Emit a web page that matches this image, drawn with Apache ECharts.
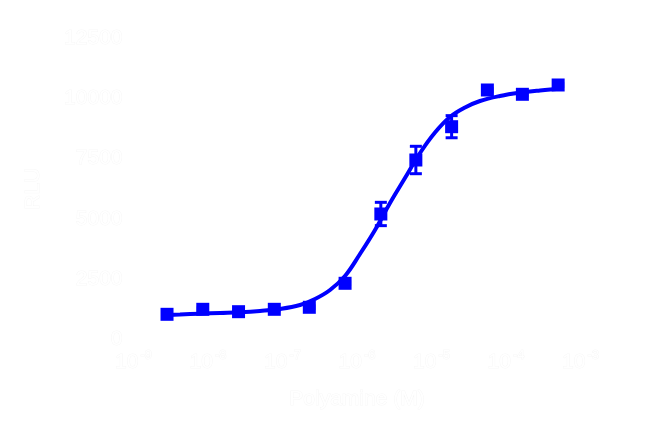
<!DOCTYPE html>
<html>
<head>
<meta charset="utf-8">
<script src="https://cdn.jsdelivr.net/npm/echarts@6/dist/echarts.min.js"></script>
<style>html,body{margin:0;padding:0;background:#fff}#c{width:650px;height:434px}</style>
</head>
<body>
<div id="c"></div>
<script>
// x tick exponents (labels 10^n) and y ticks
const xTickExponents = [-9, -8, -7, -6, -5, -4, -3];
const yTicks = [0, 2500, 5000, 7500, 10000, 12500];
const xTitle = 'Polyamine (M)';
const yTitle = 'RLU';

// measured points: log10 concentration (M), mean signal, error
const logConc = [-8.55, -8.07, -7.59, -7.11, -6.64, -6.16, -5.68, -5.21, -4.73, -4.25, -3.78, -3.30];
const meanSignal = [1027, 1235, 1136, 1235, 1319, 2317, 5200, 7446, 8831, 10358, 10179, 10566];
const errSignal = [60, 60, 60, 60, 60, 60, 485, 570, 460, 60, 60, 60];

// fitted curve
const curveLog = [-8.617, -8.376, -8.107, -7.839, -7.570, -7.302, -7.034, -6.765, -6.564, -6.362, -6.161, -5.960, -5.758, -5.557, -5.356, -5.154, -4.953, -4.752, -4.550, -4.349, -4.081, -3.812, -3.544, -3.235];
const curveSignal = [998, 1019, 1052, 1082, 1111, 1165, 1248, 1414, 1664, 2038, 2621, 3536, 4534, 5657, 6697, 7737, 8590, 9235, 9630, 9900, 10108, 10245, 10337, 10420];

const BLUE = '#0000ff';
const FONT = "'Liberation Sans', Arial, sans-serif";
const ghost = { color: '#ffffff', textBorderColor: 'rgba(0,0,0,0.04)', textBorderWidth: 1, fontFamily: FONT };

const chart = echarts.init(document.getElementById('c'), null, { renderer: 'canvas' });
const option = {
  backgroundColor: '#ffffff',
  animation: false,
  grid: { left: 133.5, top: 38.5, width: 447, height: 300.5, containLabel: false },
  xAxis: {
    type: 'value', min: xTickExponents[0], max: xTickExponents[xTickExponents.length - 1], interval: 1,
    name: xTitle, nameLocation: 'middle', nameGap: 50,
    nameTextStyle: Object.assign({ fontSize: 21 }, ghost),
    axisLine: { show: false }, axisTick: { show: false }, splitLine: { show: false },
    axisLabel: {
      margin: 10,
      formatter: function (v) {
        const i = xTickExponents.indexOf(Math.round(v));
        return '{b|10}{s|' + xTickExponents[i] + '}';
      },
      rich: {
        b: Object.assign({ fontSize: 21, lineHeight: 24, verticalAlign: 'bottom' }, ghost),
        s: Object.assign({ fontSize: 13, lineHeight: 24, verticalAlign: 'top', padding: [0, 0, 0, 2] }, ghost)
      }
    }
  },
  yAxis: {
    type: 'value', min: yTicks[0], max: yTicks[yTicks.length - 1], interval: yTicks[1] - yTicks[0],
    name: yTitle, nameLocation: 'middle', nameGap: 90, nameRotate: 90,
    nameTextStyle: Object.assign({ fontSize: 21 }, ghost),
    axisLine: { show: false }, axisTick: { show: false }, splitLine: { show: false },
    axisLabel: Object.assign({ fontSize: 21, margin: 11, formatter: function (v) { return String(v); } }, ghost)
  },
  series: [
    {
      type: 'line', data: curveLog.map((x, i) => [x, curveSignal[i]]),
      smooth: 0.4, showSymbol: false, z: 2,
      lineStyle: { color: BLUE, width: 4 }
    },
    {
      type: 'custom', z: 3,
      data: logConc.map((x, i) => [x, meanSignal[i], errSignal[i]]),
      renderItem: function (params, api) {
        const x = api.value(0), y = api.value(1), e = api.value(2);
        const top = api.coord([x, y + e]);
        const bot = api.coord([x, y - e]);
        const hw = 6;
        const style = { stroke: BLUE, lineWidth: 3, fill: null };
        return {
          type: 'group',
          children: [
            { type: 'line', shape: { x1: top[0], y1: top[1], x2: bot[0], y2: bot[1] }, style: style },
            { type: 'line', shape: { x1: top[0] - hw, y1: top[1], x2: top[0] + hw, y2: top[1] }, style: style },
            { type: 'line', shape: { x1: bot[0] - hw, y1: bot[1], x2: bot[0] + hw, y2: bot[1] }, style: style }
          ]
        };
      }
    },
    {
      type: 'scatter', z: 4,
      data: logConc.map((x, i) => [x, meanSignal[i]]),
      symbol: 'rect', symbolSize: 13,
      itemStyle: { color: BLUE, opacity: 1 }
    }
  ]
};
chart.setOption(option);
</script>
</body>
</html>
